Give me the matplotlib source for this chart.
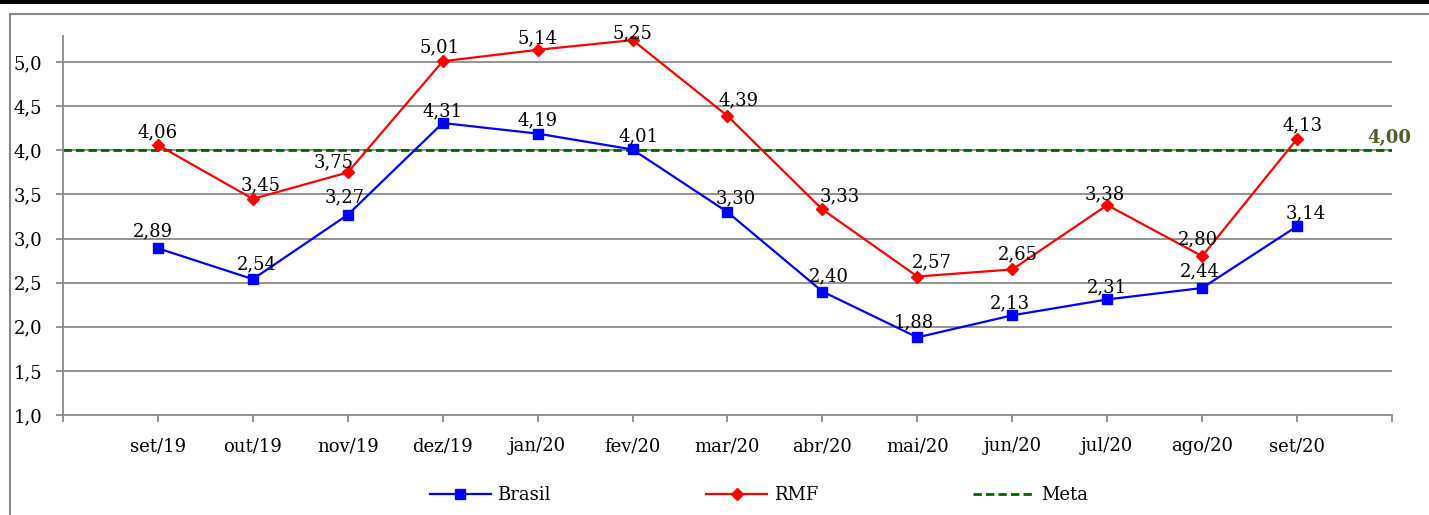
import numpy as np
import matplotlib.pyplot as plt
from matplotlib.patches import Rectangle
from matplotlib.ticker import FuncFormatter

plt.rcParams['font.family'] = ['DejaVu Serif']

meses = ['set/19', 'out/19', 'nov/19', 'dez/19', 'jan/20', 'fev/20', 'mar/20',
         'abr/20', 'mai/20', 'jun/20', 'jul/20', 'ago/20', 'set/20']
brasil = [2.89, 2.54, 3.27, 4.31, 4.19, 4.01, 3.30, 2.40, 1.88, 2.13, 2.31, 2.44, 3.14]
rmf = [4.06, 3.45, 3.75, 5.01, 5.14, 5.25, 4.39, 3.33, 2.57, 2.65, 3.38, 2.80, 4.13]
meta = 4.00

# label offsets in pixels (dx, dy)
off_br = [(-5, 17), (4, 15), (-3, 17), (0, 12), (0, 13), (6, 13), (8, 14),
          (6, 15), (-3, 15), (-2, 12), (0, 12), (-2, 17), (9, 13)]
off_rmf = [(0, 13), (8, 14), (-14, 10), (-3, 14), (0, 11), (0, 7), (11, 16),
           (17, 13), (14, 14), (6, 15), (-2, 11), (-4, 17), (5, 14)]

fig = plt.figure(figsize=(14.29, 5.15), dpi=100)
ax = fig.add_axes([63/1429, 1-415/515, (1392-63)/1429, (415-35.7)/515])

x = np.arange(1, len(meses)+1)
cinza = '#8a8a8a'
fs = 13

for y in np.arange(1.5, 5.01, 0.5):
    ax.axhline(y, color=cinza, lw=1.3, zorder=1)

ax.plot(x, brasil, color='#0000ff', lw=1.6, marker='s', ms=7, label='Brasil', zorder=3)
ax.plot(x, rmf, color='#ff0000', lw=1.6, marker='D', ms=6.5, label='RMF', zorder=3)
ax.axhline(meta, color='#006400', lw=2.0, dashes=(3, 1.5), label='Meta', zorder=2)

fmt = lambda v: f'{v:.2f}'.replace('.', ',')
for xi, v, (dx, dy) in zip(x, brasil, off_br):
    ax.annotate(fmt(v), (xi, v), xytext=(dx, dy), textcoords='offset pixels',
                ha='center', va='center', fontsize=fs, zorder=4)
for xi, v, (dx, dy) in zip(x, rmf, off_rmf):
    ax.annotate(fmt(v), (xi, v), xytext=(dx, dy), textcoords='offset pixels',
                ha='center', va='center', fontsize=fs, zorder=4)
ax.annotate(fmt(meta), (len(meses)+1, meta), xytext=(-3, 12), textcoords='offset pixels',
            ha='center', va='center', fontsize=fs, fontweight='bold', color='#4f6228')

ax.set_xlim(0, len(meses)+1)
ax.set_ylim(1.0, 5.3)
ax.set_yticks(np.arange(1.0, 5.01, 0.5))
ax.yaxis.set_major_formatter(FuncFormatter(lambda v, p: f'{v:.1f}'.replace('.', ',')))
ax.set_xticks(np.arange(0, len(meses)+2))
ax.set_xticklabels([''] + meses + [''])
ax.tick_params(axis='y', length=5, width=1.3, color=cinza, pad=10, labelsize=fs)
ax.tick_params(axis='x', length=5, width=1.3, color=cinza, pad=11, labelsize=fs)
for s in ['top', 'right']:
    ax.spines[s].set_visible(False)
for s in ['left', 'bottom']:
    ax.spines[s].set_color(cinza)
    ax.spines[s].set_linewidth(1.3)

fig.legend(loc='center', bbox_to_anchor=(0.531, 1-495/515), ncol=3, frameon=False,
           fontsize=fs, handlelength=3.4, columnspacing=8.6, handletextpad=0.35)

# outer frame and top bar
fig.add_artist(Rectangle((10/1429, -0.1), 1.2, 1-14/515+0.1, transform=fig.transFigure,
                         fill=False, edgecolor=cinza, lw=1.5))
fig.add_artist(Rectangle((0, 1-4/515), 1, 4/515, transform=fig.transFigure,
                         facecolor='black', edgecolor='none'))

fig.savefig('out.png', dpi=100)
